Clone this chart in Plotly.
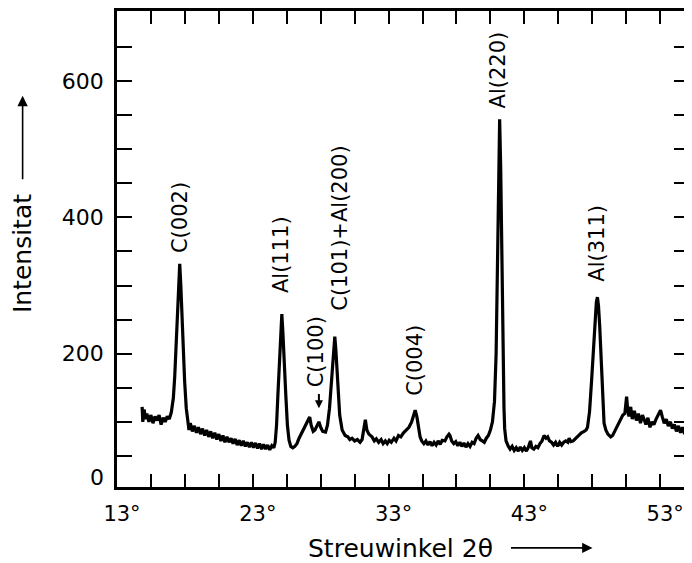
import plotly.graph_objects as go

# --- data ---
two_theta = [
    14.85, 14.9, 15.0, 15.1, 15.2, 15.35, 15.5, 15.65, 15.8, 15.95, 16.1, 16.25, 16.4, 16.55, 16.7, 16.85,
    17.0, 17.15, 17.25, 17.35, 17.45, 17.55, 17.62, 17.7, 17.8, 17.9, 17.98, 18.1, 18.22,
    18.3, 18.4, 18.55, 18.7, 18.85, 19.0, 19.15, 19.3, 19.45, 19.6, 19.75, 19.9, 20.05, 20.2, 20.35,
    20.5, 20.65, 20.8, 20.95, 21.1, 21.25, 21.4, 21.55, 21.7, 21.85, 22.0, 22.15, 22.3, 22.45, 22.6,
    22.75, 22.9, 23.05, 23.2, 23.35, 23.5, 23.65, 23.8, 23.95, 24.1, 24.25, 24.4, 24.55, 24.65, 24.75,
    24.85, 24.95, 25.05, 25.14, 25.22, 25.32, 25.43, 25.55, 25.67, 25.8, 25.95, 26.1, 26.25, 26.41,
    26.6, 26.8, 27.0, 27.19, 27.3, 27.45, 27.58, 27.7, 27.87, 28.0, 28.15, 28.36, 28.5, 28.65, 28.8,
    28.95, 29.04, 29.12, 29.25, 29.4, 29.58, 29.8, 30.0, 30.15, 30.31, 30.5, 30.7, 30.9, 31.05, 31.2,
    31.29, 31.4, 31.55, 31.78, 31.95, 32.1, 32.27, 32.45, 32.6, 32.76, 32.9, 33.05, 33.2, 33.4, 33.55,
    33.73, 33.9, 34.1, 34.3, 34.5, 34.7, 34.85, 34.96, 35.08, 35.2, 35.32, 35.44, 35.6, 35.75, 35.9,
    36.05, 36.2, 36.35, 36.5, 36.65, 36.8, 36.95, 37.15, 37.3, 37.45, 37.52, 37.65, 37.8, 37.95, 38.1,
    38.25, 38.4, 38.55, 38.7, 38.85, 39.0, 39.15, 39.3, 39.45, 39.59, 39.75, 39.9, 40.05, 40.2, 40.35,
    40.5, 40.65, 40.8, 40.92, 41.02, 41.1, 41.18, 41.26, 41.34, 41.42, 41.5, 41.55, 41.65, 41.8, 41.95,
    42.1, 42.25, 42.4, 42.55, 42.7, 42.85, 43.0, 43.15, 43.3, 43.45, 43.55, 43.7, 43.85, 44.0, 44.15,
    44.3, 44.45, 44.6, 44.72, 44.85, 45.0, 45.15, 45.3, 45.45, 45.6, 45.75, 45.9, 46.05, 46.2, 46.3,
    46.43, 46.6, 46.8, 47.0, 47.2, 47.4, 47.55, 47.65, 47.8, 47.95, 48.1, 48.22, 48.3, 48.38, 48.46,
    48.55, 48.65, 48.75, 48.87, 49.0, 49.15, 49.36, 49.5, 49.65, 49.8, 49.95, 50.1, 50.25, 50.4, 50.48,
    50.53, 50.6, 50.7, 50.83, 50.95, 51.1, 51.25, 51.4, 51.55, 51.7, 51.8, 51.95, 52.1, 52.25, 52.4,
    52.54, 52.7, 52.85, 53.03, 53.15, 53.3, 53.45, 53.6, 53.76, 53.9, 54.05, 54.2, 54.35, 54.5, 54.65,
    54.8, 54.95, 55.12,
]
intensity = [
    122, 100, 118, 104, 112, 100, 110, 98, 108, 102, 110, 96, 106, 100, 108, 104,
    114, 135, 166, 215, 270, 315, 332, 300, 240, 190, 160, 120, 96,
    88, 98, 86, 94, 84, 92, 82, 90, 80, 88, 78, 86, 76, 84, 74,
    82, 72, 80, 70, 78, 70, 76, 68, 75, 66, 73, 65, 72, 64, 70,
    63, 70, 62, 69, 61, 68, 60, 67, 60, 66, 59, 65, 62, 70, 95,
    140, 190, 240, 258, 230, 180, 140, 95, 73, 64, 62, 64, 68, 76,
    84, 92, 100, 107, 95, 86, 88, 94, 100, 92, 86, 85, 95, 120, 160,
    210, 225, 205, 150, 110, 88, 80, 78, 74, 76, 72, 74, 70, 74, 90,
    103, 88, 82, 78, 72, 75, 70, 74, 68, 72, 68, 73, 70, 76, 72,
    80, 78, 84, 88, 92, 100, 110, 117, 108, 90, 78, 72, 68, 72, 66,
    71, 65, 70, 66, 72, 67, 73, 72, 78, 82, 80, 72, 68, 71, 65,
    70, 64, 69, 63, 68, 64, 70, 68, 76, 80, 74, 72, 70, 76, 80,
    88, 100, 130, 200, 330, 460, 544, 470, 330, 200, 120, 90, 72, 65, 60,
    64, 58, 62, 57, 63, 58, 62, 57, 63, 72, 62, 60, 64, 62, 68,
    72, 80, 76, 78, 72, 70, 66, 70, 64, 70, 66, 70, 72, 70, 76,
    71, 72, 76, 80, 84, 86, 88, 92, 115, 160, 210, 255, 275, 283, 270,
    240, 190, 140, 98, 88, 82, 78, 80, 86, 92, 100, 105, 110, 112, 125,
    137, 120, 108, 122, 104, 116, 102, 112, 98, 110, 104, 96, 106, 92, 100,
    96, 104, 110, 117, 108, 98, 104, 94, 100, 90, 96, 86, 94, 84, 92,
    82, 90, 85,
]

x_tick_values = [13 + 2.5 * i for i in range(17)]
x_tick_labels = ["13°", "", "", "", "23°", "", "", "", "33°", "", "", "", "43°", "", "", "", "53°"]
y_tick_values = [50 * i for i in range(1, 14)]
y_tick_labels = ["", "", "", "200", "", "", "", "400", "", "", "", "600", ""]

peak_labels = ["C(002)", "Al(111)", "C(100)", "C(101)+Al(200)", "C(004)", "Al(220)", "Al(311)"]
peak_label_x = [17.69, 25.09, 27.63, 29.46, 34.9, 41.13, 48.38]
peak_label_y = [400, 345, 203, 384, 190, 617, 362]

FONT = "DejaVu Sans"

fig = go.Figure()
fig.add_trace(go.Scatter(
    x=two_theta, y=intensity, mode="lines",
    line=dict(color="black", width=3.2),
    hoverinfo="skip", showlegend=False,
))

annotations = []
for t, xx, yy in zip(peak_labels, peak_label_x, peak_label_y):
    annotations.append(dict(
        x=xx, y=yy, xref="x", yref="y", text=t, showarrow=False, textangle=-90,
        xanchor="center", yanchor="middle", font=dict(family=FONT, size=21, color="black"),
    ))

# small arrow under C(100)
annotations.append(dict(
    x=27.87, y=120, xref="x", yref="y", ax=27.87, ay=143, axref="x", ayref="y",
    text="", showarrow=True, arrowhead=2, arrowsize=0.8, arrowwidth=2, arrowcolor="black",
))

# "0" tick label
annotations.append(dict(
    x=-0.019, y=0.021, xref="paper", yref="paper", text="0", showarrow=False,
    xanchor="right", yanchor="middle", font=dict(family=FONT, size=22, color="black"),
))

# y title with arrow
annotations.append(dict(
    x=-0.165, y=0.4906, xref="paper", yref="paper", text="Intensitat", showarrow=False,
    textangle=-90, xanchor="center", yanchor="middle",
    font=dict(family=FONT, size=25, color="black"),
))
annotations.append(dict(
    x=-0.165, y=0.8218, xref="paper", yref="paper", ax=0, ay=85,
    text="", showarrow=True, arrowhead=2, arrowsize=1.3, arrowwidth=1.6, arrowcolor="black",
))

# x title with arrow
annotations.append(dict(
    x=0.4948, y=-0.1289, xref="paper", yref="paper", text="Streuwinkel 2θ", showarrow=False,
    xanchor="center", yanchor="middle", font=dict(family=FONT, size=25, color="black"),
))
annotations.append(dict(
    x=0.8313, y=-0.1279, xref="paper", yref="paper", ax=-83, ay=0,
    text="", showarrow=True, arrowhead=2, arrowsize=1.3, arrowwidth=1.6, arrowcolor="black",
))

# page body has an 8px default margin, so the figure is drawn 8px smaller
fig.update_layout(
    width=684, height=555,
    margin=dict(l=109, r=0, t=2, b=76),
    paper_bgcolor="white", plot_bgcolor="white",
    font=dict(family=FONT, color="black"),
    annotations=annotations,
    showlegend=False,
)
fig.update_xaxes(
    range=[13, 55.125], tickvals=x_tick_values, ticktext=x_tick_labels,
    ticks="inside", ticklen=13, tickwidth=2, tickcolor="black",
    showline=True, linewidth=2.5, linecolor="black", mirror="ticks",
    showgrid=False, zeroline=False,
    tickfont=dict(family=FONT, size=21, color="black"),
    ticklabelshift=5, ticklabelstandoff=6,
)
fig.update_yaxes(
    range=[4.4, 702.8], tickvals=y_tick_values, ticktext=y_tick_labels,
    ticks="inside", ticklen=15, tickwidth=2, tickcolor="black",
    showline=True, linewidth=2.5, linecolor="black", mirror="ticks",
    showgrid=False, zeroline=False,
    tickfont=dict(family=FONT, size=22, color="black"),
    ticklabelstandoff=6,
)

fig.write_html("out.html")
